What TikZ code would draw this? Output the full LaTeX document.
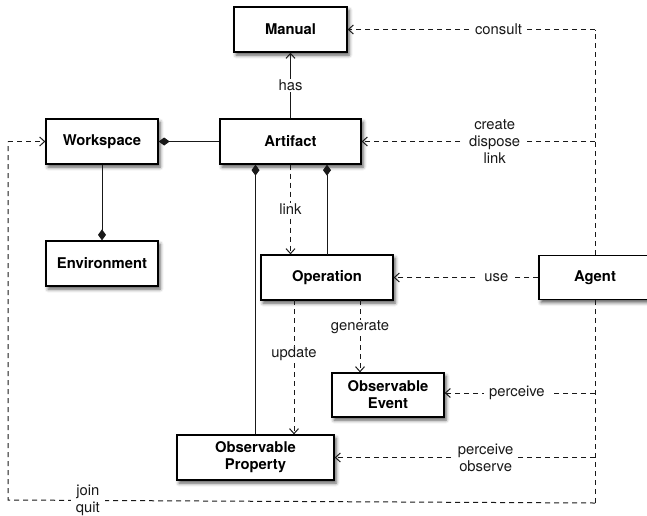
\documentclass[tikz,border=0pt]{standalone}
\usepackage{fontspec}
\setmainfont{TeX Gyre Heros}
\usetikzlibrary{arrows.meta,shadows.blur}

\begin{document}
\begin{tikzpicture}[x=1pt,y=-1pt,
  box/.style={draw=black, line width=1.3pt, fill=white, inner sep=0pt,
    font=\bfseries\fontsize{14.8}{17}\selectfont, align=center,
    blur shadow={shadow xshift=2pt, shadow yshift=-3pt,
                 shadow blur radius=3.5pt, shadow opacity=65}},
  dline/.style={line width=1pt, black!90, dash pattern=on 5pt off 4pt},
  dep/.style={dline, -{Straight Barb[length=5pt,width=9pt]}},
  assoc/.style={line width=1pt, black!90, -{Straight Barb[length=5pt,width=9pt]}},
  comp/.style={line width=1pt, black!90, -{Diamond[length=11pt,width=8pt]}},
  lbl/.style={fill=white, font=\fontsize{14.8}{17}\selectfont, align=center,
    inner xsep=5pt, inner ysep=1pt}]

\useasboundingbox (0,0) rectangle (647,515);

% classes
\node[box, minimum width=113pt, minimum height=45pt] (manual)      at (290.5,29.5)  {Manual};
\node[box, minimum width=112pt, minimum height=45pt] (workspace)   at (102,141.5)   {Workspace};
\node[box, minimum width=141pt, minimum height=45pt] (artifact)    at (290.5,141.5) {Artifact};
\node[box, minimum width=112pt, minimum height=45pt] (environment) at (102,263.5)   {Environment};
\node[box, minimum width=132pt, minimum height=45pt] (operation)   at (327,277.5)   {Operation};
\node[box, minimum width=112pt, minimum height=44pt] (agent)       at (595,277.5)   {Agent};
\node[box, minimum width=112pt, minimum height=44pt] (oevent)      at (388,395)     {Observable\\Event};
\node[box, minimum width=157pt, minimum height=45pt] (oprop)       at (255.5,457.5) {Observable\\Property};

% composition links
\draw[comp] (artifact.west) -- (workspace.east);
\draw[comp] (workspace.south) -- (environment.north);
\draw[comp] (oprop.north) -- (oprop.north |- artifact.south);
\coordinate (opTop) at (327,255);
\draw[comp] (opTop) -- (opTop |- artifact.south);

% artifact internals
\draw[assoc] (artifact.north) -- node[lbl]{has} (manual.south);
\draw[dep] (artifact.south) -- node[lbl]{link} (artifact.south |- operation.north);
\coordinate (updTop) at (294,300);
\draw[dep] (updTop) -- node[lbl,pos=0.4]{update} (updTop |- oprop.north);
\coordinate (genTop) at (360,300);
\draw[dep] (genTop) -- node[lbl,pos=0.38]{generate} (genTop |- oevent.north);

% agent actions
\coordinate (jConsult) at (595,29.5);
\coordinate (jCreate)  at (595,141.5);
\coordinate (jEvent)   at (595,393);
\coordinate (jProp)    at (595,457.5);
\coordinate (jBottom)  at (595,503);
\coordinate (jLeft)    at (8,500);
\coordinate (jUpper)   at (8,141.5);

\draw[dline] (agent.north) -- (jConsult);
\draw[dline] (agent.south) -- (jBottom);
\draw[dep] (jConsult) -- node[lbl,pos=0.39]{consult} (manual.east);
\draw[dep] (jCreate) -- node[lbl,pos=0.43]{create\\dispose\\link} (artifact.east);
\draw[dep] (agent.west) -- node[lbl,pos=0.29]{use} (operation.east);
\draw[dep] (jEvent) -- node[lbl,pos=0.52]{perceive} (oevent.east |- jEvent);
\draw[dep] (jProp) -- node[lbl,pos=0.42]{perceive\\observe} (oprop.east);
\draw[dline] (jBottom) -- node[lbl,pos=0.864]{join\\quit} (jLeft) -- (jUpper);
\draw[dep] (jUpper) -- (workspace.west);

\end{tikzpicture}
\end{document}
